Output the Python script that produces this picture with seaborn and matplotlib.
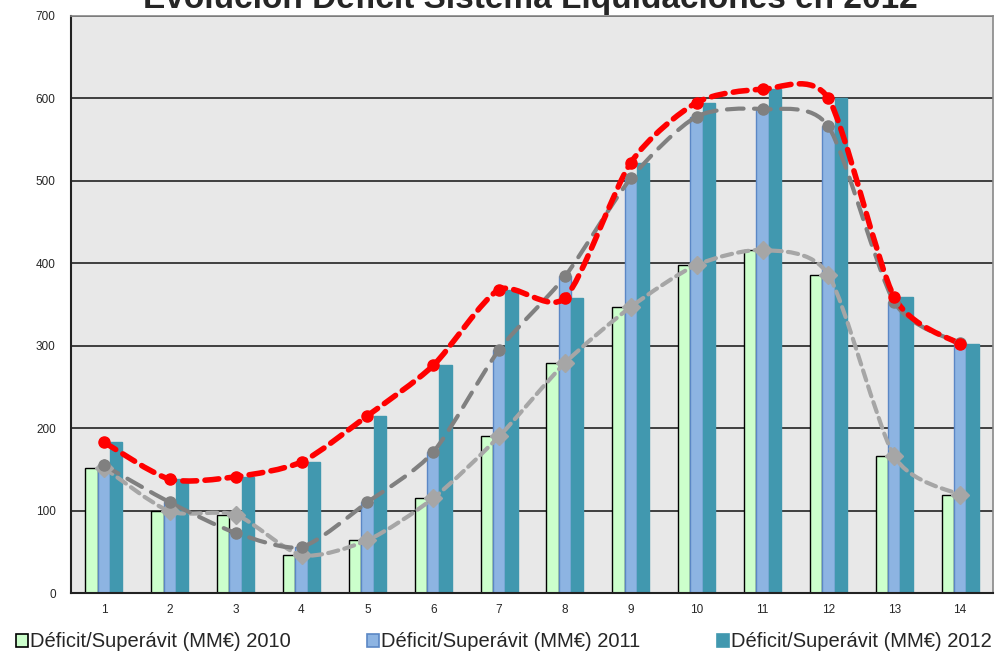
import numpy as np
import pandas as pd
import matplotlib
matplotlib.use('Agg')
import matplotlib.pyplot as plt
from matplotlib.path import Path
from matplotlib.patches import PathPatch, Patch
import seaborn as sns

# Data
categories = [str(i) for i in range(1, 15)]
years = ['2010', '2011', '2012']
deficit_2010 = [152, 99, 95, 46, 64, 115, 190, 279, 347, 398, 416, 386, 166, 119]
deficit_2011 = [155, 110, 73, 56, 110, 171, 295, 384, 503, 578, 587, 566, 353, 303]
deficit_2012 = [183, 138, 141, 159, 215, 276, 368, 358, 522, 595, 611, 600, 359, 302]
yticks = [0, 100, 200, 300, 400, 500, 600, 700]

labels = ['Déficit/Superávit (MM€) ' + y for y in years]

df = pd.DataFrame({
    'cat': categories * 3,
    'year': [y for y in years for _ in categories],
    'valor': deficit_2010 + deficit_2011 + deficit_2012,
})

bar_colors = ['#CCFFCC', '#8DB4E2', '#4198AF']
bar_edges = ['#000000', '#5B87C5', '#4198AF']

sns.set_style('white')
plt.rcParams['font.family'] = ['Liberation Sans', 'DejaVu Sans']

fig = plt.figure(figsize=(9.97, 6.53), dpi=100)
ax = fig.add_axes([71 / 997, 1 - 593 / 653, 922 / 997, 577 / 653])
ax.set_facecolor('#E8E8E8')

sns.barplot(data=df, x='cat', y='valor', hue='year', order=categories,
            palette=bar_colors, width=0.56, gap=0, saturation=1,
            legend=False, ax=ax, zorder=2)
for cont, ec in zip(ax.containers, bar_edges):
    for bar in cont:
        bar.set_edgecolor(ec)
        bar.set_linewidth(1.0)


def smooth_line(ax, ys, color, lw, dash, marker, ms, k=1 / 8):
    # smoothed line like Excel: cubic bezier through the points
    xs = np.arange(len(ys), dtype=float)
    pts = np.column_stack([xs, np.asarray(ys, dtype=float)])
    verts = [pts[0]]
    codes = [Path.MOVETO]
    n = len(pts)
    for i in range(n - 1):
        p0 = pts[i - 1] if i > 0 else pts[i]
        p1 = pts[i]
        p2 = pts[i + 1]
        p3 = pts[i + 2] if i + 2 < n else pts[i + 1]
        c1 = p1 + (p2 - p0) * k
        c2 = p2 - (p3 - p1) * k
        verts += [c1, c2, p2]
        codes += [Path.CURVE4] * 3
    patch = PathPatch(Path(verts, codes), facecolor='none', edgecolor=color,
                      lw=lw, linestyle=dash, zorder=4, capstyle='round')
    ax.add_patch(patch)
    ax.plot(xs, ys, linestyle='none', marker=marker, ms=ms, color=color,
            zorder=5)


smooth_line(ax, deficit_2010, '#A6A6A6', 3, (0, (2.5, 1.5)), 'D', 9)
smooth_line(ax, deficit_2011, '#808080', 3, (0, (4, 2.5)), 'o', 8)
smooth_line(ax, deficit_2012, '#FF0000', 4, (0, (2.5, 1.5)), 'o', 8)

ax.set_xlim(-0.5, 13.5)
ax.set_ylim(0, 700)
ax.set_yticks(yticks)
ax.set_yticklabels([str(t) for t in yticks], fontsize=8.5)
ax.tick_params(axis='x', labelsize=8.5, length=0, pad=8)
ax.tick_params(axis='y', length=0, pad=11)
ax.yaxis.grid(True, color='#222222', linewidth=1.2, zorder=0)
ax.set_axisbelow(True)
ax.set_xlabel('')
ax.set_ylabel('')
for side in ['left', 'bottom']:
    ax.spines[side].set_color('#222222')
    ax.spines[side].set_linewidth(1.5)
for side in ['top', 'right']:
    ax.spines[side].set_color('#888888')
    ax.spines[side].set_linewidth(1.2)

fig.text(0.532, 1 - 8 / 653, 'Evolución Déficit Sistema Liquidaciones en 2012',
         ha='center', va='baseline', fontsize=24, fontweight='bold')

handles = [Patch(facecolor=c, edgecolor=e, linewidth=1.2)
           for c, e in zip(bar_colors, bar_edges)]
fig.legend(handles, labels, loc='lower left', ncol=3, mode='expand',
           bbox_to_anchor=(0.008, -0.01, 0.995, 0.04), frameon=False,
           fontsize=14.5, handlelength=0.6, handleheight=0.6,
           handletextpad=0.1, borderaxespad=0)

fig.savefig('out.png', dpi=100)
